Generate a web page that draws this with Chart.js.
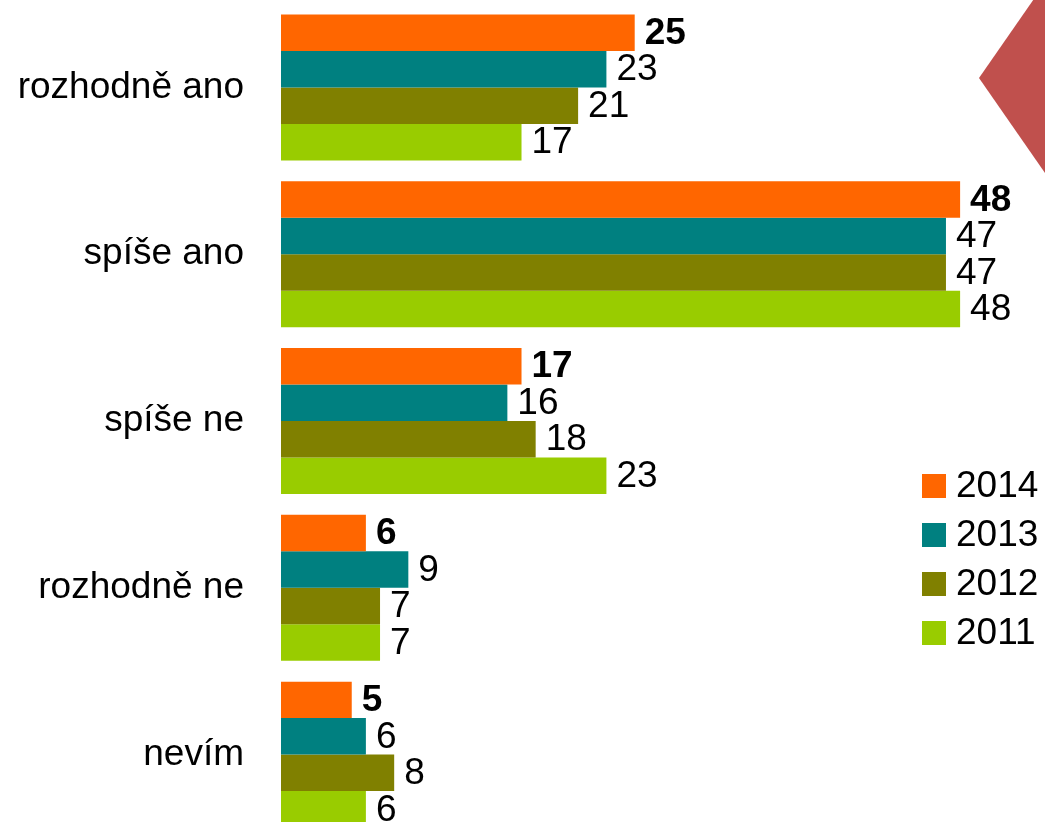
<!DOCTYPE html>
<html>
<head>
<meta charset="utf-8">
<script src="https://cdn.jsdelivr.net/npm/chart.js@4"></script>
<style>
  html, body { margin: 0; padding: 0; background: #fff; overflow: hidden; }
  canvas { display: block; }
</style>
</head>
<body>
<canvas id="surveyChart" width="1045" height="838"></canvas>
<script>
const categories = ['rozhodně ano', 'spíše ano', 'spíše ne', 'rozhodně ne', 'nevím'];
const years = ['2014', '2013', '2012', '2011'];
const colors = ['#FF6600', '#008080', '#808000', '#99CC00'];

const values2014 = [25, 48, 17, 6, 5];
const values2013 = [23, 47, 16, 9, 6];
const values2012 = [21, 47, 18, 7, 8];
const values2011 = [17, 48, 23, 7, 6];

const seriesValues = [values2014, values2013, values2012, values2011];
const font = "'Liberation Sans', Arial, sans-serif";

// red diamond in the top right corner
const cornerShape = {
  id: 'cornerShape',
  beforeDraw(chart) {
    const ctx = chart.ctx;
    ctx.save();
    ctx.fillStyle = '#C0504D';
    ctx.beginPath();
    ctx.moveTo(979, 78);
    ctx.lineTo(1045, -17);
    ctx.lineTo(1111, 78);
    ctx.lineTo(1045, 173);
    ctx.closePath();
    ctx.fill();
    ctx.restore();
  }
};

// value labels at the end of each bar, first series in bold
const barValues = {
  id: 'barValues',
  afterDatasetsDraw(chart) {
    const ctx = chart.ctx;
    ctx.save();
    ctx.fillStyle = '#000';
    ctx.textBaseline = 'middle';
    ctx.textAlign = 'left';
    chart.data.datasets.forEach((ds, i) => {
      ctx.font = (i === 0 ? 'bold ' : '') + '37px ' + font;
      chart.getDatasetMeta(i).data.forEach((bar, j) => {
        ctx.fillText(String(ds.data[j]), bar.x + 10, bar.y + 1);
      });
    });
    ctx.restore();
  }
};

// legend box on the right side
const sideLegend = {
  id: 'sideLegend',
  afterDraw(chart) {
    const ctx = chart.ctx;
    ctx.save();
    ctx.font = '37px ' + font;
    ctx.textBaseline = 'middle';
    chart.data.datasets.forEach((ds, i) => {
      const y = 486 + i * 49;
      ctx.fillStyle = ds.backgroundColor;
      ctx.fillRect(922, y - 12, 24, 24);
      ctx.fillStyle = '#000';
      ctx.fillText(ds.label, 956, y + 1);
    });
    ctx.restore();
  }
};

new Chart(document.getElementById('surveyChart'), {
  type: 'bar',
  data: {
    labels: categories,
    datasets: years.map((y, i) => ({
      label: y,
      data: seriesValues[i],
      backgroundColor: colors[i],
      categoryPercentage: 0.875,
      barPercentage: 1
    }))
  },
  options: {
    indexAxis: 'y',
    responsive: false,
    animation: false,
    layout: { padding: { top: 4, right: 0, bottom: 0, left: 0 } },
    plugins: {
      legend: { display: false },
      tooltip: { enabled: false }
    },
    scales: {
      x: {
        display: false,
        min: 0,
        max: 54
      },
      y: {
        grid: { display: false, drawTicks: false },
        border: { display: false },
        ticks: {
          color: '#000',
          padding: 37,
          font: { family: font, size: 37 }
        },
        afterFit(scale) {
          scale.width = 281;
          // bars are offset, so the labels need no extra room above/below
          scale.paddingTop = 0;
          scale.paddingBottom = 0;
        }
      }
    }
  },
  plugins: [cornerShape, barValues, sideLegend]
});
</script>
</body>
</html>
